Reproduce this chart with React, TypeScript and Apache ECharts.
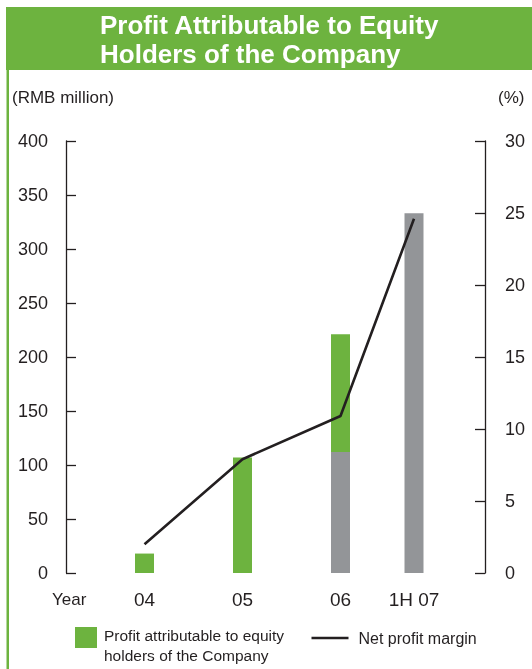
import React, { useEffect, useRef } from "react";
import * as echarts from "echarts";

// Reporting periods and values (RMB million / %)
const categories = ["04", "05", "06", "1H 07"];
const fullYearProfit: (number | null)[] = [18, 107, 221, null];
const firstHalfProfit: (number | null)[] = [null, null, 112, 333];
const netProfitMargin = [2.0, 7.9, 10.9, 24.6];

const leftAxisMax = 400;
const leftAxisStep = 50;
const rightAxisMax = 30;
const rightAxisStep = 5;

// The half-year column sits closer to the previous one, so periods are
// placed on a finer category grid with empty slots between them.
const SLOT_INDEX = [0, 4, 8, 11];
const SLOT_COUNT = 12;

const GREEN = "#6db33f";
const GREY = "#939598";
const INK = "#231f20";
const FONT = "'Liberation Sans', Arial, Helvetica, sans-serif";

const PROFIT_NAME = "Profit attributable to equity holders of the Company";
const MARGIN_NAME = "Net profit margin";

function toSlots<T>(values: (T | null)[]): (T | null)[] {
  const out: (T | null)[] = new Array(SLOT_COUNT).fill(null);
  values.forEach((v, i) => {
    out[SLOT_INDEX[i]] = v;
  });
  return out;
}

export default function App() {
  const ref = useRef<HTMLDivElement>(null);

  useEffect(() => {
    if (!ref.current) return;
    const chart = echarts.init(ref.current, undefined, { renderer: "svg" });

    const slotLabels = toSlots(categories).map((c) => c ?? "");
    const greySeg = toSlots(firstHalfProfit);
    const greenSeg = toSlots(
      fullYearProfit.map((v, i) =>
        v == null ? null : v - (firstHalfProfit[i] ?? 0)
      )
    );
    const marginLine = toSlots(netProfitMargin);

    chart.setOption({
      animation: false,
      textStyle: { fontFamily: FONT },
      title: {
        text: "Profit Attributable to Equity\nHolders of the Company",
        left: 100,
        top: 10,
        padding: 0,
        textStyle: {
          color: "#ffffff",
          fontSize: 26,
          fontWeight: "bold",
          lineHeight: 29,
          fontFamily: FONT,
        },
      },
      grid: { left: 132.25, right: 105.75, top: 141, bottom: 96 },
      xAxis: {
        type: "category",
        data: slotLabels,
        boundaryGap: true,
        axisLine: { show: false },
        axisTick: { show: false },
        axisLabel: {
          interval: 0,
          margin: 17,
          fontSize: 19,
          color: INK,
          fontFamily: FONT,
        },
      },
      yAxis: [
        {
          type: "value",
          position: "left",
          offset: 66.25,
          min: 0,
          max: leftAxisMax,
          interval: leftAxisStep,
          splitLine: { show: false },
          axisLine: { show: true, lineStyle: { color: INK, width: 1.3 } },
          axisTick: {
            show: true,
            inside: true,
            length: 10,
            lineStyle: { color: INK, width: 1.3 },
          },
          axisLabel: { margin: 18, fontSize: 18, color: INK, fontFamily: FONT },
        },
        {
          type: "value",
          position: "right",
          offset: 58.75,
          min: 0,
          max: rightAxisMax,
          interval: rightAxisStep,
          splitLine: { show: false },
          axisLine: { show: true, lineStyle: { color: INK, width: 1.3 } },
          axisTick: {
            show: true,
            inside: true,
            length: 10,
            lineStyle: { color: INK, width: 1.3 },
          },
          axisLabel: { margin: 20, fontSize: 18, color: INK, fontFamily: FONT },
        },
      ],
      legend: [
        {
          data: [{ name: PROFIT_NAME, icon: "rect" }],
          left: 75,
          top: 612.5,
          padding: 0,
          itemWidth: 22,
          itemHeight: 21,
          itemGap: 0,
          selectedMode: false,
          formatter: () =>
            "{gap| }\n{t|Profit attributable to equity}\n{t|holders of the Company}",
          textStyle: {
            color: INK,
            fontFamily: FONT,
            padding: [0, 0, 0, 2],
            rich: {
              gap: { fontSize: 10, lineHeight: 16 },
              t: { fontSize: 15.5, lineHeight: 20, color: INK, fontFamily: FONT },
            },
          },
        },
        {
          data: [{ name: MARGIN_NAME, icon: "rect" }],
          left: 311.5,
          top: 630,
          padding: 0,
          itemWidth: 37,
          itemHeight: 2.6,
          selectedMode: false,
          textStyle: {
            fontSize: 16,
            color: INK,
            fontFamily: FONT,
            padding: [0, 0, 0, 5],
          },
        },
      ],
      series: [
        {
          name: "First half",
          type: "bar",
          stack: "profit",
          barWidth: 19,
          itemStyle: { color: GREY },
          data: greySeg,
        },
        {
          name: PROFIT_NAME,
          type: "bar",
          stack: "profit",
          barWidth: 19,
          itemStyle: { color: GREEN },
          data: greenSeg,
        },
        {
          name: MARGIN_NAME,
          type: "line",
          yAxisIndex: 1,
          connectNulls: true,
          symbol: "none",
          lineStyle: { color: INK, width: 2.6 },
          itemStyle: { color: INK },
          data: marginLine,
        },
      ],
      graphic: [
        {
          type: "rect",
          left: 6,
          top: 7,
          shape: { width: 526, height: 63 },
          style: { fill: GREEN },
          z: -1,
        },
        {
          type: "rect",
          left: 6.5,
          top: 70,
          shape: { width: 2.5, height: 599 },
          style: { fill: GREEN },
          z: -1,
        },
        {
          type: "text",
          left: 12,
          top: 89,
          style: {
            text: "(RMB million)",
            fontSize: 17,
            fill: INK,
            fontFamily: FONT,
          },
        },
        {
          type: "text",
          left: 498,
          top: 89,
          style: { text: "(%)", fontSize: 17, fill: INK, fontFamily: FONT },
        },
        {
          type: "text",
          left: 52,
          top: 591,
          style: { text: "Year", fontSize: 17, fill: INK, fontFamily: FONT },
        },
      ],
    });

    return () => chart.dispose();
  }, []);

  return (
    <div
      ref={ref}
      style={{ position: "fixed", left: 0, top: 0, width: 532, height: 669 }}
    />
  );
}
